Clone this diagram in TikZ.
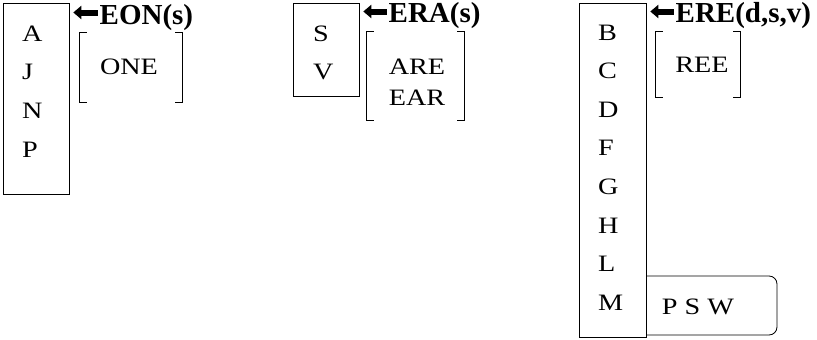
\documentclass[tikz,border=0pt]{standalone}
\usepackage{fontspec}
\setmainfont{Liberation Serif}[FakeStretch=1.2]
\newfontfamily\tagfont{Liberation Serif}
\usetikzlibrary{arrows.meta,positioning}

\tikzset{
  grp/.style={draw, line width=0.8pt, anchor=north west, minimum width=66pt,
              inner sep=0pt},
  letters/.style={anchor=north west, align=left, inner sep=0pt,
                  font=\fontsize{23.5}{38.6}\selectfont},
  word/.style={align=center, inner sep=0pt, font=\fontsize{23.5}{31}\selectfont},
  tag/.style={anchor=base west, inner sep=0pt, text height=23pt, text depth=0pt,
              font=\fontsize{29}{32}\tagfont\bfseries},
  bigarrow/.style={-{Triangle[length=8pt,width=13pt]}, line width=6pt},
  brk/.style={inner sep=0pt},
  brkline/.style={line width=0.9pt}
}

\begin{document}
\begin{tikzpicture}[x=1pt, y=-1pt]
\useasboundingbox (0,0) rectangle (817,340);
% group EON
\node[grp, minimum height=191pt] (grpA) at (3,3) {};
\node[letters] (colA) at (22,25.5) {A\\J\\N\\P};
\node[tag] (eon) at (99.5,24) {EON(s)};
\coordinate (eonTip) at (grpA.east |- eon.west);
\draw[bigarrow] ([xshift=-2pt]eon.west) -- ([xshift=3.5pt]eonTip);
\node[brk, minimum width=102pt, minimum height=69pt] (brkA) at (131,67.5) {};
\node[word] (one) at (129,67) {ONE};
\draw[brkline] ([xshift=7pt]brkA.north west) -| (brkA.south west) -- ++(7,0);
\draw[brkline] ([xshift=-7pt]brkA.north east) -| (brkA.south east) -- ++(-7,0);

% group ERA
\node[grp, minimum height=93pt] (grpS) at (293,3) {};
\node[letters] (colS) at (313,25.5) {S\\V};
\node[tag] (era) at (388.5,23) {ERA(s)};
\coordinate (eraTip) at (grpS.east |- era.west);
\draw[bigarrow] ([xshift=-2pt]era.west) -- ([xshift=3.5pt]eraTip);
\node[brk, minimum width=97pt, minimum height=88pt] (brkS) at (415.5,76) {};
\node[word] (are) at (417,82.5) {ARE\\EAR};
\draw[brkline] ([xshift=7pt]brkS.north west) -| (brkS.south west) -- ++(7,0);
\draw[brkline] ([xshift=-7pt]brkS.north east) -| (brkS.south east) -- ++(-7,0);

% group ERE
\node[grp, minimum width=67pt, minimum height=334pt] (grpB) at (579,3) {};
\node[letters] (colB) at (598,24.5) {B\\C\\D\\F\\G\\H\\L\\M};
\node[tag] (ere) at (675.5,23) {ERE(d,s,v)};
\coordinate (ereTip) at (grpB.east |- ere.west);
\draw[bigarrow] ([xshift=-2pt]ere.west) -- ([xshift=3.5pt]ereTip);
\node[brk, minimum width=84pt, minimum height=65pt] (brkB) at (698,64.5) {};
\node[word] (ree) at (702,65) {REE};
\draw[brkline] ([xshift=7pt]brkB.north west) -| (brkB.south west) -- ++(7,0);
\draw[brkline] ([xshift=-7pt]brkB.north east) -| (brkB.south east) -- ++(-7,0);

% the rest
\node[word] (psw) at (698,307) {P S W};
\draw[line width=0.8pt, rounded corners=8pt]
  (646,276) -- (777,276) -- (777,335) -- (646,335);
\end{tikzpicture}
\end{document}
